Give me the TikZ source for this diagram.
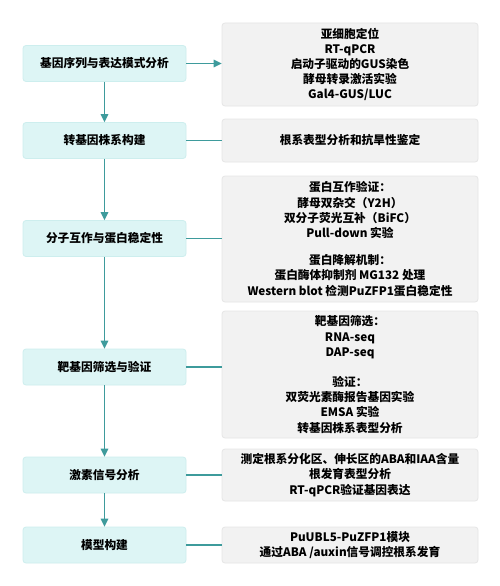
\documentclass[tikz,border=0pt]{standalone}
\usepackage{fontspec}
\setmainfont{Noto Sans CJK SC}
\usetikzlibrary{arrows.meta}
\definecolor{lfill}{HTML}{DDF5F5}
\definecolor{lborder}{HTML}{CDEEEE}
\definecolor{rfill}{HTML}{F2F2F2}
\definecolor{rborder}{HTML}{E6E6E6}
\definecolor{teal}{HTML}{3E9B9C}
\begin{document}
\begin{tikzpicture}[x=1pt,y=-1pt,
  lbox/.style={rectangle,rounded corners=3pt,fill=lfill,draw=lborder,line width=0.8pt,
    minimum width=163pt,minimum height=36pt,inner sep=0pt,
    font=\bfseries\fontsize{11.7}{15}\selectfont},
  rbox/.style={rectangle,rounded corners=3pt,fill=rfill,draw=rborder,line width=0.8pt,
    minimum width=256pt,inner sep=0pt,align=center,
    font=\bfseries\fontsize{11.7}{15.2}\selectfont},
  arr/.style={draw=teal,line width=1.4pt,-{Triangle[length=8pt,width=7.5pt]}},
  conn/.style={draw=teal,line width=1.4pt}]
\fill[white] (0,0) rectangle (500,586);
\useasboundingbox (0,0) rectangle (500,586);

\node[lbox] (L1) at (104.5,63.5) {基因序列与表达模式分析};
\node[lbox] (L2) at (104.5,140.5) {转基因株系构建};
\node[lbox] (L3) at (104.5,238.5) {分子互作与蛋白稳定性};
\node[lbox] (L4) at (104.5,367) {靶基因筛选与验证};
\node[lbox] (L5) at (104.5,475) {激素信号分析};
\node[lbox] (L6) at (104.5,545) {模型构建};

\node[rbox,minimum height=83pt] (R1) at (350,64.5) {亚细胞定位\\RT-qPCR\\启动子驱动的GUS染色\\酵母转录激活实验\\Gal4-GUS/LUC};
\node[rbox,minimum height=43pt] (R2) at (350,140.5) {根系表型分析和抗旱性鉴定};
\node[rbox,minimum height=126pt] (R3) at (350,239) {蛋白互作验证：\\酵母双杂交（Y2H）\\双分子荧光互补（BiFC）\\Pull-down 实验\\[12pt]蛋白降解机制：\\蛋白酶体抑制剂 MG132 处理\\Western blot 检测PuZFP1蛋白稳定性};
\node[rbox,minimum height=127pt] (R4) at (350,374.5) {靶基因筛选：\\RNA-seq\\DAP-seq\\[15pt]验证：\\双荧光素酶报告基因实验\\EMSA 实验\\转基因株系表型分析};
\node[rbox,minimum height=52pt] (R5) at (350,475) {测定根系分化区、伸长区的ABA和IAA含量\\根发育表型分析\\RT-qPCR验证基因表达};
\node[rbox,minimum height=36pt] (R6) at (350,545) {PuUBL5-PuZFP1模块\\通过ABA /auxin信号调控根系发育};

\draw[arr] (L1) -- (L2);
\draw[arr] (L2) -- (L3);
\draw[arr] (L3) -- (L4);
\draw[arr] (L4) -- (L5);
\draw[arr] (L5) -- (L6);

\draw[arr] (L1.east) -- (L1.east -| R1.west);
\draw[conn] (L2.east) -- (L2.east -| R2.west);
\draw[conn] (L3.east) -- (L3.east -| R3.west);
\draw[conn] (L4.east) -- (L4.east -| R4.west);
\draw[conn] (L5.east) -- (L5.east -| R5.west);
\draw[conn] (L6.east) -- (L6.east -| R6.west);
\end{tikzpicture}
\end{document}
